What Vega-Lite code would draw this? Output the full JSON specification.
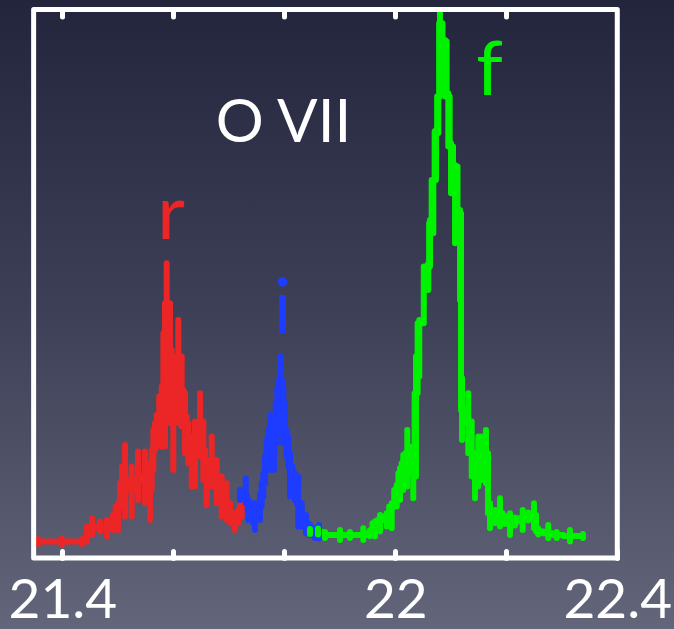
{
  "$schema": "https://vega.github.io/schema/vega-lite/v6.json",
  "width": 674,
  "height": 629,
  "autosize": "none",
  "padding": 0,
  "background": "#44465c",
  "config": {"view": {"stroke": null}},
  "datasets": {
    "spec": [
      {"s":"r","x":21.3562,"y":8.2,"lo":7,"hi":9.5},
      {"s":"r","x":21.3989,"y":8.2,"lo":6.5,"hi":9.9},
      {"s":"r","x":21.4355,"y":8.2,"lo":7,"hi":9.5},
      {"s":"r","x":21.4535,"y":15.7,"lo":11.5,"hi":19.9},
      {"s":"r","x":21.4679,"y":14.9,"lo":13.2,"hi":18.2},
      {"s":"r","x":21.4805,"y":14.9,"lo":10.7,"hi":19},
      {"s":"r","x":21.4914,"y":18.2,"lo":14,"hi":21.5},
      {"s":"r","x":21.5004,"y":25.7,"lo":14,"hi":27.4},
      {"s":"r","x":21.5076,"y":37.4,"lo":25.7,"hi":45.7},
      {"s":"r","x":21.513,"y":39,"lo":20.7,"hi":56.5},
      {"s":"r","x":21.525,"y":34,"lo":20.7,"hi":45.7},
      {"s":"r","x":21.5364,"y":39,"lo":29,"hi":53.2},
      {"s":"r","x":21.549,"y":40.7,"lo":27.4,"hi":53.2},
      {"s":"r","x":21.558,"y":34,"lo":19,"hi":47.4},
      {"s":"r","x":21.564,"y":54,"lo":44,"hi":64},
      {"s":"r","x":21.5701,"y":67.4,"lo":55.7,"hi":71.5},
      {"s":"r","x":21.5791,"y":80.7,"lo":55.7,"hi":85.7},
      {"s":"r","x":21.585,"y":112.4,"lo":55.7,"hi":127.4},
      {"s":"r","x":21.5881,"y":127.4,"lo":69,"hi":147.4},
      {"s":"r","x":21.5941,"y":104,"lo":67.4,"hi":127.4},
      {"s":"r","x":21.6,"y":90.7,"lo":44,"hi":100.7},
      {"s":"r","x":21.609,"y":99,"lo":67.4,"hi":119},
      {"s":"r","x":21.6151,"y":84,"lo":65.7,"hi":100.7},
      {"s":"r","x":21.6211,"y":70.7,"lo":52.4,"hi":82.4},
      {"s":"r","x":21.627,"y":57.4,"lo":47.4,"hi":67.4},
      {"s":"r","x":21.6332,"y":54,"lo":35.7,"hi":60.7},
      {"s":"r","x":21.6391,"y":60.7,"lo":35.7,"hi":68.2},
      {"s":"r","x":21.6481,"y":67.4,"lo":50.7,"hi":82.4},
      {"s":"r","x":21.6541,"y":54,"lo":39,"hi":68.2},
      {"s":"r","x":21.6602,"y":40.7,"lo":26.5,"hi":49},
      {"s":"r","x":21.6692,"y":47.4,"lo":35.7,"hi":60.7},
      {"s":"r","x":21.6782,"y":40.7,"lo":27.4,"hi":49},
      {"s":"r","x":21.6872,"y":34,"lo":20.7,"hi":40.7},
      {"s":"r","x":21.6962,"y":27.4,"lo":19,"hi":37.4},
      {"s":"r","x":21.7022,"y":22.4,"lo":17.4,"hi":27.4},
      {"s":"r","x":21.7112,"y":19,"lo":14,"hi":22.4},
      {"s":"r","x":21.7171,"y":20.7,"lo":17.4,"hi":24},
      {"s":"r","x":21.7232,"y":27.4,"lo":20.7,"hi":30.7},
      {"s":"i","x":21.7202,"y":31.5,"lo":29,"hi":34},
      {"s":"i","x":21.7305,"y":31.5,"lo":27.4,"hi":39.9},
      {"s":"i","x":21.7351,"y":24,"lo":19,"hi":29},
      {"s":"i","x":21.7441,"y":24,"lo":17.4,"hi":27.4},
      {"s":"i","x":21.7472,"y":20.7,"lo":14,"hi":27.4},
      {"s":"i","x":21.7562,"y":25.7,"lo":19,"hi":32.4},
      {"s":"i","x":21.7622,"y":37.4,"lo":30.7,"hi":42.4},
      {"s":"i","x":21.7683,"y":50.7,"lo":44,"hi":59},
      {"s":"i","x":21.7742,"y":64,"lo":44,"hi":71.5},
      {"s":"i","x":21.7814,"y":65.7,"lo":44,"hi":69},
      {"s":"i","x":21.7874,"y":77.4,"lo":57.4,"hi":84.9},
      {"s":"i","x":21.7935,"y":89,"lo":64,"hi":100.7},
      {"s":"i","x":21.7982,"y":77.4,"lo":57.4,"hi":84.9},
      {"s":"i","x":21.8043,"y":60.7,"lo":50.7,"hi":64},
      {"s":"i","x":21.8103,"y":45.7,"lo":30.7,"hi":52.4},
      {"s":"i","x":21.8193,"y":37.4,"lo":29,"hi":42.4},
      {"s":"i","x":21.8252,"y":27.4,"lo":15.7,"hi":40.7},
      {"s":"i","x":21.8314,"y":20.7,"lo":15.7,"hi":27.4},
      {"s":"i","x":21.8391,"y":17.4,"lo":12.4,"hi":21.5},
      {"s":"i","x":21.8463,"y":14,"lo":11.5,"hi":16.5},
      {"s":"i","x":21.8553,"y":12.4,"lo":10,"hi":15},
      {"s":"i","x":21.8625,"y":14,"lo":9.9,"hi":16.5},
      {"s":"f","x":21.8463,"y":13.2,"lo":12,"hi":14.5},
      {"s":"f","x":21.8607,"y":13.2,"lo":11.7,"hi":14.7},
      {"s":"f","x":21.8733,"y":11.5,"lo":10,"hi":13},
      {"s":"f","x":21.9004,"y":11.5,"lo":9,"hi":14},
      {"s":"f","x":21.9184,"y":11.5,"lo":10,"hi":13},
      {"s":"f","x":21.9423,"y":11.5,"lo":9,"hi":14.9},
      {"s":"f","x":21.9544,"y":12.4,"lo":10.9,"hi":13.9},
      {"s":"f","x":21.9634,"y":17.4,"lo":10.7,"hi":18.2},
      {"s":"f","x":21.9724,"y":19,"lo":13.2,"hi":21.5},
      {"s":"f","x":21.9845,"y":20.7,"lo":15.7,"hi":22.4},
      {"s":"f","x":21.9935,"y":25.7,"lo":14.9,"hi":27.4},
      {"s":"f","x":22.0025,"y":34,"lo":25.7,"hi":36.5},
      {"s":"f","x":22.0085,"y":42.4,"lo":29,"hi":44.9},
      {"s":"f","x":22.0144,"y":47.4,"lo":34,"hi":51.5},
      {"s":"f","x":22.0216,"y":52.4,"lo":35.7,"hi":64},
      {"s":"f","x":22.0265,"y":49,"lo":42.4,"hi":55.7},
      {"s":"f","x":22.0324,"y":52.4,"lo":29.9,"hi":54},
      {"s":"f","x":22.0373,"y":82.4,"lo":40.7,"hi":100.7},
      {"s":"f","x":22.0432,"y":117.4,"lo":90.7,"hi":119},
      {"s":"f","x":22.0595,"y":145.7,"lo":134,"hi":147.4},
      {"s":"f","x":22.0625,"y":167.4,"lo":145.7,"hi":169},
      {"s":"f","x":22.0685,"y":189,"lo":162.4,"hi":189},
      {"s":"f","x":22.0733,"y":213.2,"lo":189,"hi":214},
      {"s":"f","x":22.0775,"y":230.7,"lo":212.5,"hi":230.7},
      {"s":"f","x":22.0805,"y":267.4,"lo":230.7,"hi":272.4},
      {"s":"f","x":22.0896,"y":258.2,"lo":230.7,"hi":259},
      {"s":"f","x":22.0955,"y":230.7,"lo":205.7,"hi":232.4},
      {"s":"f","x":22.1004,"y":205.7,"lo":182.4,"hi":207.4},
      {"s":"f","x":22.1076,"y":195.7,"lo":157.4,"hi":196.5},
      {"s":"f","x":22.1166,"y":172.4,"lo":129,"hi":174},
      {"s":"f","x":22.1202,"y":74,"lo":59,"hi":90},
      {"s":"f","x":22.1315,"y":67.4,"lo":52.4,"hi":82.4},
      {"s":"f","x":22.1377,"y":52.4,"lo":40.7,"hi":68.2},
      {"s":"f","x":22.1436,"y":45.7,"lo":29.9,"hi":52.4},
      {"s":"f","x":22.1495,"y":45.7,"lo":35.7,"hi":60.7},
      {"s":"f","x":22.1557,"y":50.7,"lo":39,"hi":60.7},
      {"s":"f","x":22.1634,"y":52.4,"lo":37.4,"hi":64},
      {"s":"f","x":22.1706,"y":22.4,"lo":14.9,"hi":27.4},
      {"s":"f","x":22.1796,"y":20.7,"lo":17.4,"hi":24},
      {"s":"f","x":22.1887,"y":22.4,"lo":15.7,"hi":29.9},
      {"s":"f","x":22.1977,"y":19,"lo":17,"hi":21},
      {"s":"f","x":22.2067,"y":17.4,"lo":11.5,"hi":22.4},
      {"s":"f","x":22.2157,"y":18.2,"lo":16.2,"hi":20.2},
      {"s":"f","x":22.2296,"y":19.9,"lo":14,"hi":24},
      {"s":"f","x":22.2396,"y":20.7,"lo":18.7,"hi":22.7},
      {"s":"f","x":22.2499,"y":21.5,"lo":14.9,"hi":27.4},
      {"s":"f","x":22.2577,"y":13.2,"lo":11.7,"hi":14.7},
      {"s":"f","x":22.2757,"y":12.4,"lo":9.9,"hi":16.5},
      {"s":"f","x":22.2908,"y":11.5,"lo":10,"hi":13},
      {"s":"f","x":22.3148,"y":11,"lo":8.2,"hi":14},
      {"s":"f","x":22.3382,"y":11,"lo":10,"hi":12}
    ],
    "labels": [
      {"s":"r","x":21.5959,"y":159.5,"t":"r"},
      {"s":"i","x":21.7968,"y":112.5,"t":"i"},
      {"s":"f","x":22.1697,"y":231.5,"t":"f"}
    ],
    "title": [
      {"x":21.7986,"y":208.2,"t":"O VII"}
    ]
  },
  "resolve": {"axis": {"x": "independent"}},
  "layer": [
    {
      "data": {"values": [{}]},
      "mark": {"type": "rect", "fill": {"gradient": "linear", "x1": 0, "y1": 0, "x2": 0, "y2": 1, "stops": [{"offset": 0, "color": "#23253c"}, {"offset": 0.5, "color": "#3e4057"}, {"offset": 1, "color": "#63657a"}]}},
      "encoding": {
        "x": {"datum": 21.2877, "type": "quantitative", "scale": {"domain": [21.2877, 22.5022], "nice": false, "zero": false}, "axis": null},
        "x2": {"datum": 22.5022},
        "y": {"datum": -35.5, "type": "quantitative", "scale": {"domain": [-35.5, 279], "nice": false, "zero": false}, "axis": null},
        "y2": {"datum": 279}
      }
    },
    {
      "data": {"name": "spec"},
      "mark": {"type": "line", "interpolate": "step", "strokeWidth": 6, "strokeJoin": "round"},
      "encoding": {
        "x": {"field": "x", "type": "quantitative", "scale": {"domain": [21.2877, 22.5022], "nice": false, "zero": false},
              "axis": {"orient": "bottom", "offset": -71, "zindex": 2, "values": [21.4, 21.6, 21.8, 22, 22.2, 22.4], "domain": false, "grid": false, "labels": false, "ticks": true, "tickSize": -7, "tickWidth": 5, "tickCap": "round", "tickColor": "white", "title": null}},
        "y": {"field": "y", "type": "quantitative", "scale": {"domain": [-35.5, 279], "nice": false, "zero": false}, "axis": null},
        "color": {"field": "s", "type": "nominal", "scale": {"domain": ["r", "i", "f"], "range": ["#ec2626", "#1e3cff", "#00f200"]}, "legend": null},
        "order": {"field": "x", "type": "quantitative"}
      }
    },
    {
      "data": {"name": "spec"},
      "mark": {"type": "rule", "strokeWidth": 6, "strokeCap": "round"},
      "encoding": {
        "x": {"field": "x", "type": "quantitative", "scale": {"domain": [21.2877, 22.5022], "nice": false, "zero": false},
              "axis": {"orient": "bottom", "offset": -71, "zindex": 2, "values": [21.4, 21.6, 21.8, 22, 22.2, 22.4], "domain": false, "grid": false, "ticks": false, "labels": true, "labelExpr": "abs(datum.value-21.4)<0.001 ? '21.4' : abs(datum.value-22)<0.001 ? '22' : abs(datum.value-22.4)<0.001 ? '22.4' : ''", "labelFont": "Lato", "labelFontSize": 55, "labelColor": "white", "labelBaseline": "alphabetic", "labelPadding": 59, "labelFlush": false, "labelOverlap": false, "labelBound": false, "title": null}},
        "y": {"field": "lo", "type": "quantitative", "scale": {"domain": [-35.5, 279], "nice": false, "zero": false}, "axis": null},
        "y2": {"field": "hi"},
        "color": {"field": "s", "type": "nominal", "scale": {"domain": ["r", "i", "f"], "range": ["#ec2626", "#1e3cff", "#00f200"]}, "legend": null}
      }
    },
    {
      "data": {"values": [{}]},
      "mark": {"type": "rect", "fill": null, "stroke": "white", "strokeWidth": 5, "strokeJoin": "round"},
      "encoding": {
        "x": {"datum": 21.3483, "type": "quantitative", "scale": {"domain": [21.2877, 22.5022], "nice": false, "zero": false},
              "axis": {"orient": "top", "offset": -9.5, "zindex": 2, "values": [21.4, 21.6, 21.8, 22, 22.2], "domain": false, "grid": false, "labels": false, "ticks": true, "tickSize": -7, "tickWidth": 5, "tickCap": "round", "tickColor": "white", "title": null}},
        "x2": {"datum": 22.4},
        "y": {"datum": 0, "type": "quantitative", "scale": {"domain": [-35.5, 279], "nice": false, "zero": false}, "axis": null},
        "y2": {"datum": 274.25}
      }
    },
    {
      "data": {"name": "labels"},
      "mark": {"type": "text", "font": "Lato", "fontSize": 76, "baseline": "alphabetic", "align": "center"},
      "encoding": {
        "x": {"field": "x", "type": "quantitative", "scale": {"domain": [21.2877, 22.5022], "nice": false, "zero": false}, "axis": null},
        "y": {"field": "y", "type": "quantitative", "scale": {"domain": [-35.5, 279], "nice": false, "zero": false}, "axis": null},
        "text": {"field": "t"},
        "color": {"field": "s", "type": "nominal", "scale": {"domain": ["r", "i", "f"], "range": ["#ec2626", "#1e3cff", "#00f200"]}, "legend": null}
      }
    },
    {
      "data": {"name": "title"},
      "mark": {"type": "text", "font": "Lato", "fontSize": 60, "baseline": "alphabetic", "align": "center", "color": "white"},
      "encoding": {
        "x": {"field": "x", "type": "quantitative", "scale": {"domain": [21.2877, 22.5022], "nice": false, "zero": false}, "axis": null},
        "y": {"field": "y", "type": "quantitative", "scale": {"domain": [-35.5, 279], "nice": false, "zero": false}, "axis": null},
        "text": {"field": "t"}
      }
    }
  ]
}
